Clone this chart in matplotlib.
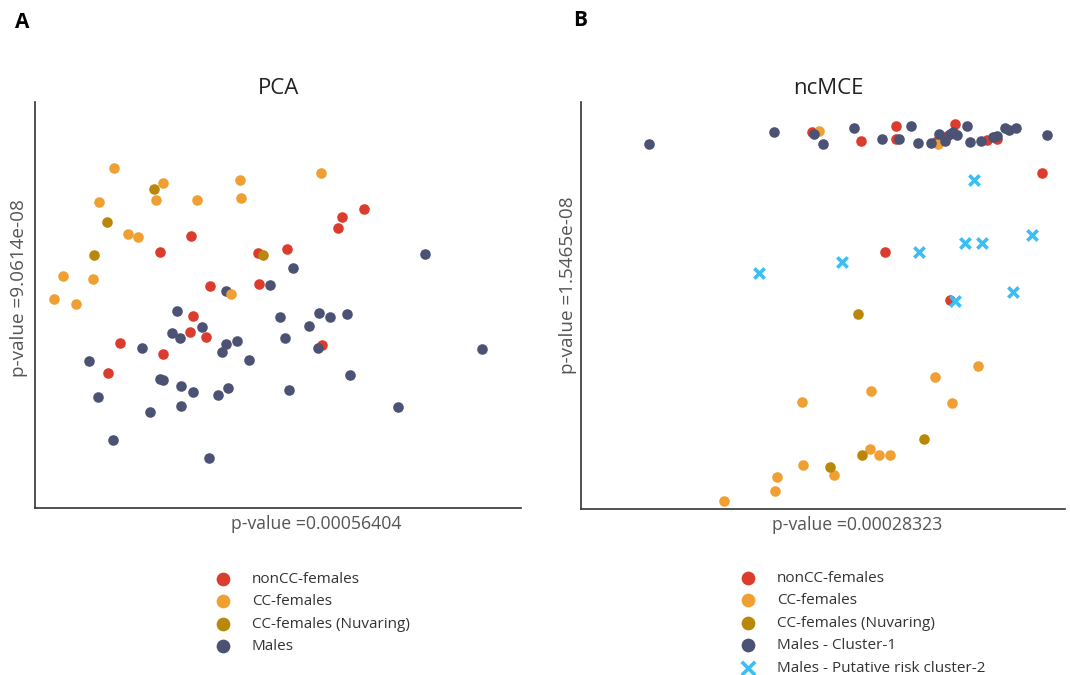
import numpy as np
import matplotlib
matplotlib.use("Agg")
import matplotlib.pyplot as plt

plt.rcParams['font.family'] = ['Open Sans', 'DejaVu Sans']

# Cores dos grupos
RED = '#dc3c2d'
ORANGE = '#f0a032'
OLIVE = '#b9870a'
NAVY = '#4b5273'
CYAN = '#3cbef5'

# ---- Painel A (PCA), unidades arbitrarias ----
pca_noncc_x = [156, 125, 223, 175, 224, 158, 155, 171, 85, 128, 73, 329, 307, 303, 252, 287]
pca_noncc_y = [272, 256, 255, 222, 224, 192, 176, 171, 165, 154, 135, 299, 291, 280, 259, 163]

pca_cc_x = [79, 128, 121, 162, 205, 206, 64, 93, 103, 28, 58, 19, 41, 196, 286]
pca_cc_y = [340, 325, 308, 308, 328, 310, 306, 274, 271, 232, 229, 209, 204, 214, 335]

pca_nuva_x = [119, 72, 59, 228]
pca_nuva_y = [319, 286, 253, 253]

pca_males_x = [191, 235, 142, 167, 137, 145, 191, 202, 187, 214, 107, 54, 125, 128, 146, 158,
               183, 193, 63, 115, 146, 78, 174, 245, 258, 390, 284, 295, 312, 274, 250, 283,
               447, 315, 254, 363]
pca_males_y = [217, 223, 197, 181, 175, 170, 164, 167, 156, 148, 160, 147, 129, 128, 122, 116,
               113, 120, 111, 96, 102, 68, 50, 191, 240, 254, 195, 191, 194, 182, 170, 160,
               159, 133, 118, 101]

# ---- Painel B (ncMCE) ----
mce_noncc_x = [231, 280, 315, 315, 356, 366, 374, 406, 416, 461, 304, 369]
mce_noncc_y = [377, 368, 383, 370, 368, 373, 385, 369, 370, 336, 257, 209]

mce_cc_x = [238, 357, 397, 354, 290, 221, 371, 289, 298, 309, 222, 253, 196, 194, 143]
mce_cc_y = [378, 365, 143, 132, 118, 107, 106, 60, 54, 54, 44, 34, 32, 18, 8]

mce_nuva_x = [277, 343, 281, 249]
mce_nuva_y = [195, 70, 54, 42]

mce_males1_x = [68, 193, 233, 242, 273, 301, 318, 330, 337, 350, 358, 364, 369, 372, 376, 386,
                389, 400, 412, 416, 424, 428, 435, 466]
mce_males1_y = [365, 377, 375, 365, 381, 370, 370, 383, 366, 366, 375, 368, 375, 377, 374, 383,
                367, 368, 372, 373, 381, 379, 381, 374]

mce_males2_x = [393, 451, 384, 401, 338, 261, 178, 432, 374]
mce_males2_y = [329, 274, 266, 266, 257, 247, 236, 217, 208]

labels_a = ['nonCC-females', 'CC-females', 'CC-females (Nuvaring)', 'Males']
labels_b = ['nonCC-females', 'CC-females', 'CC-females (Nuvaring)', 'Males - Cluster-1',
            'Males - Putative risk cluster-2']

W, H = 1070, 675
fig = plt.figure(figsize=(W / 100, H / 100), dpi=100)

# eixos posicionados em pixels
ax_a = fig.add_axes([35 / W, (H - 508) / H, 486 / W, 406 / H])
ax_b = fig.add_axes([581 / W, (H - 509) / H, 484 / W, 407 / H])

S = 58
ax_a.scatter(pca_noncc_x, pca_noncc_y, s=S, color=RED, lw=0, label=labels_a[0], zorder=2)
ax_a.scatter(pca_males_x, pca_males_y, s=S, color=NAVY, lw=0, label=labels_a[3], zorder=3)
ax_a.scatter(pca_cc_x, pca_cc_y, s=S, color=ORANGE, lw=0, label=labels_a[1], zorder=4)
ax_a.scatter(pca_nuva_x, pca_nuva_y, s=S, color=OLIVE, lw=0, label=labels_a[2], zorder=5)

ax_b.scatter(mce_noncc_x, mce_noncc_y, s=S, color=RED, lw=0, label=labels_b[0], zorder=2)
ax_b.scatter(mce_cc_x, mce_cc_y, s=S, color=ORANGE, lw=0, label=labels_b[1], zorder=3)
ax_b.scatter(mce_nuva_x, mce_nuva_y, s=S, color=OLIVE, lw=0, label=labels_b[2], zorder=4)
ax_b.scatter(mce_males1_x, mce_males1_y, s=S, color=NAVY, lw=0, label=labels_b[3], zorder=5)
ax_b.scatter(mce_males2_x, mce_males2_y, s=55, color=CYAN, marker='x', linewidths=2.6,
             label=labels_b[4], zorder=6)

ax_a.set_xlim(0, 486)
ax_a.set_ylim(0, 406)
ax_b.set_xlim(0, 484)
ax_b.set_ylim(0, 407)

for ax in (ax_a, ax_b):
    ax.set_xticks([])
    ax.set_yticks([])
    for side in ('top', 'right'):
        ax.spines[side].set_visible(False)
    for side in ('left', 'bottom'):
        ax.spines[side].set_color('#333333')
        ax.spines[side].set_linewidth(1.2)

# titulos e rotulos
ax_a.text(0.502, 1.02, 'PCA', transform=ax_a.transAxes, ha='center', va='baseline',
          fontsize=16, color='#222222')
ax_b.text(0.51, 1.02, 'ncMCE', transform=ax_b.transAxes, ha='center', va='baseline',
          fontsize=16, color='#222222')

ax_a.set_xlabel('p-value =0.00056404', fontsize=12.7, color='#555555')
ax_a.xaxis.set_label_coords(0.578, -0.018)
ax_a.set_ylabel('p-value =9.0614e-08', fontsize=13.6, color='#555555')
ax_a.yaxis.set_label_coords(-0.014, 0.542)

ax_b.set_xlabel('p-value =0.00028323', fontsize=12.7, color='#555555')
ax_b.xaxis.set_label_coords(0.571, -0.018)
ax_b.set_ylabel('p-value =1.5465e-08', fontsize=13.6, color='#555555')
ax_b.yaxis.set_label_coords(-0.008, 0.551)

fig.text(15 / W, 1 - 12 / H, 'A', fontsize=15, fontweight='bold', ha='left', va='top')
fig.text(573 / W, 1 - 10 / H, 'B', fontsize=15, fontweight='bold', ha='left', va='top')

# legendas abaixo de cada painel
leg_kw = dict(loc='upper left', frameon=False, fontsize=11, borderpad=0, borderaxespad=0,
              handlelength=1.0, handletextpad=1.4, labelspacing=0.49, labelcolor='#333333',
              markerscale=1.3)
h, l = ax_a.get_legend_handles_labels()
order = [0, 2, 3, 1]
ax_a.legend([h[i] for i in order], [l[i] for i in order],
            bbox_to_anchor=(215 / W, 1 - 572 / H), bbox_transform=fig.transFigure, **leg_kw)
ax_b.legend(bbox_to_anchor=(740 / W, 1 - 571 / H), bbox_transform=fig.transFigure, **leg_kw)

plt.savefig('out.png', dpi=100)
